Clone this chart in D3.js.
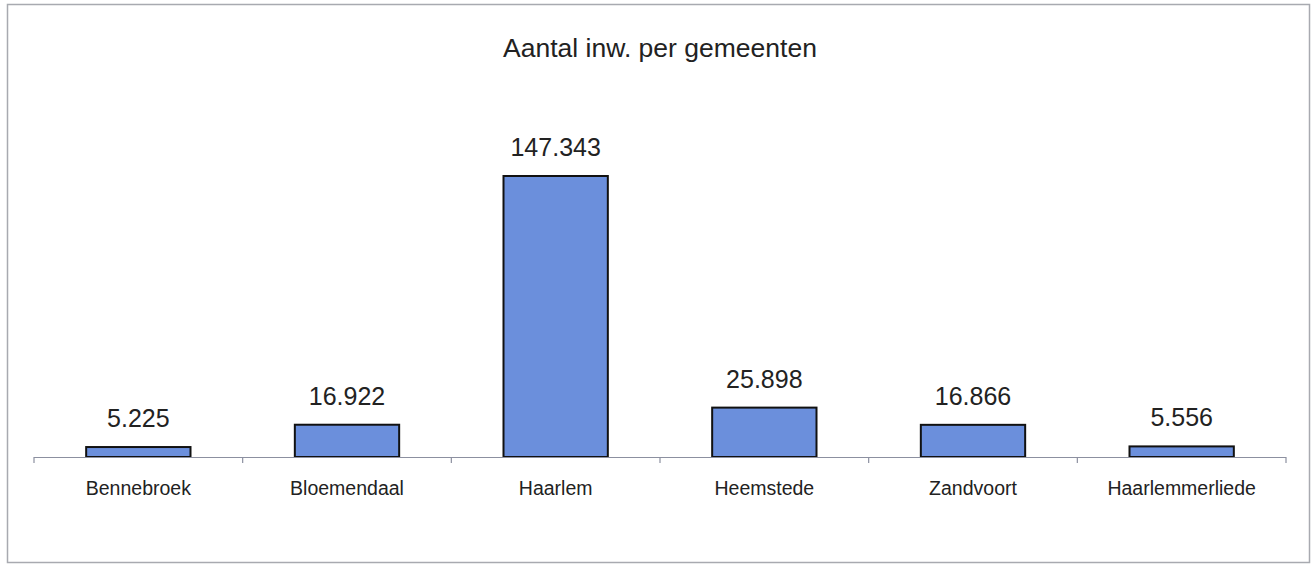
<!DOCTYPE html>
<html>
<head>
<meta charset="utf-8">
<script src="https://cdn.jsdelivr.net/npm/d3@7"></script>
<style>
  body { margin: 0; background: #fff; }
  text { font-family: "Liberation Sans", Arial, sans-serif; fill: #222; }
</style>
</head>
<body>
<svg id="chart" width="1314" height="564"></svg>
<script>
// data
var gemeenten = ["Bennebroek", "Bloemendaal", "Haarlem", "Heemstede", "Zandvoort", "Haarlemmerliede"];
var inwoners = [5225, 16922, 147343, 25898, 16866, 5556];
var labels = ["5.225", "16.922", "147.343", "25.898", "16.866", "5.556"];
var title = "Aantal inw. per gemeenten";

var svg = d3.select("#chart");
var width = +svg.attr("width");
var height = +svg.attr("height");

// frame
svg.append("rect")
    .attr("x", 7.5).attr("y", 4.5)
    .attr("width", 1302).attr("height", 558)
    .attr("fill", "none")
    .attr("stroke", "#a8aab0")
    .attr("stroke-width", 1.5);

var x = d3.scaleBand().domain(gemeenten).range([34, 1286]).paddingInner(0.5).paddingOuter(0.25);
var y = d3.scaleLinear().domain([0, 147343]).range([457, 176]);

var data = gemeenten.map(function(g, i) {
  return { name: g, value: inwoners[i], label: labels[i] };
});

svg.append("text")
    .attr("x", 660).attr("y", 57)
    .attr("text-anchor", "middle")
    .style("font-size", "26.5px")
    .text(title);

svg.selectAll("rect.bar")
  .data(data)
  .enter().append("rect")
    .attr("class", "bar")
    .attr("x", function(d) { return x(d.name); })
    .attr("y", function(d) { return y(d.value); })
    .attr("width", x.bandwidth())
    .attr("height", function(d) { return y(0) - y(d.value); })
    .attr("fill", "#6b8fdc")
    .attr("stroke", "#111")
    .attr("stroke-width", 2);

svg.selectAll("text.val")
  .data(data)
  .enter().append("text")
    .attr("class", "val")
    .attr("x", function(d) { return x(d.name) + x.bandwidth() / 2; })
    .attr("y", function(d) { return y(d.value) - 20; })
    .attr("text-anchor", "middle")
    .style("font-size", "25px")
    .text(function(d) { return d.label; });

// axis
var xAxis = d3.axisBottom(x).tickSize(0).tickPadding(0);
var gx = svg.append("g")
    .attr("transform", "translate(0,457)")
    .call(xAxis);
gx.select(".domain").remove();
gx.selectAll("text")
    .attr("dy", null)
    .attr("y", 38)
    .style("font-size", "19.5px")
    .style("fill", "#222");

var edges = d3.range(gemeenten.length + 1).map(function(i) { return 34 + i * (1252 / gemeenten.length); });
gx.append("line")
    .attr("x1", 34).attr("x2", 1286)
    .attr("y1", 0.5).attr("y2", 0.5)
    .attr("stroke", "#8c90a0").attr("stroke-width", 1.2);
gx.selectAll("line.edge")
  .data(edges)
  .enter().append("line")
    .attr("class", "edge")
    .attr("x1", function(d) { return d; }).attr("x2", function(d) { return d; })
    .attr("y1", 0).attr("y2", 6)
    .attr("stroke", "#8c90a0").attr("stroke-width", 1.2);
</script>
</body>
</html>
